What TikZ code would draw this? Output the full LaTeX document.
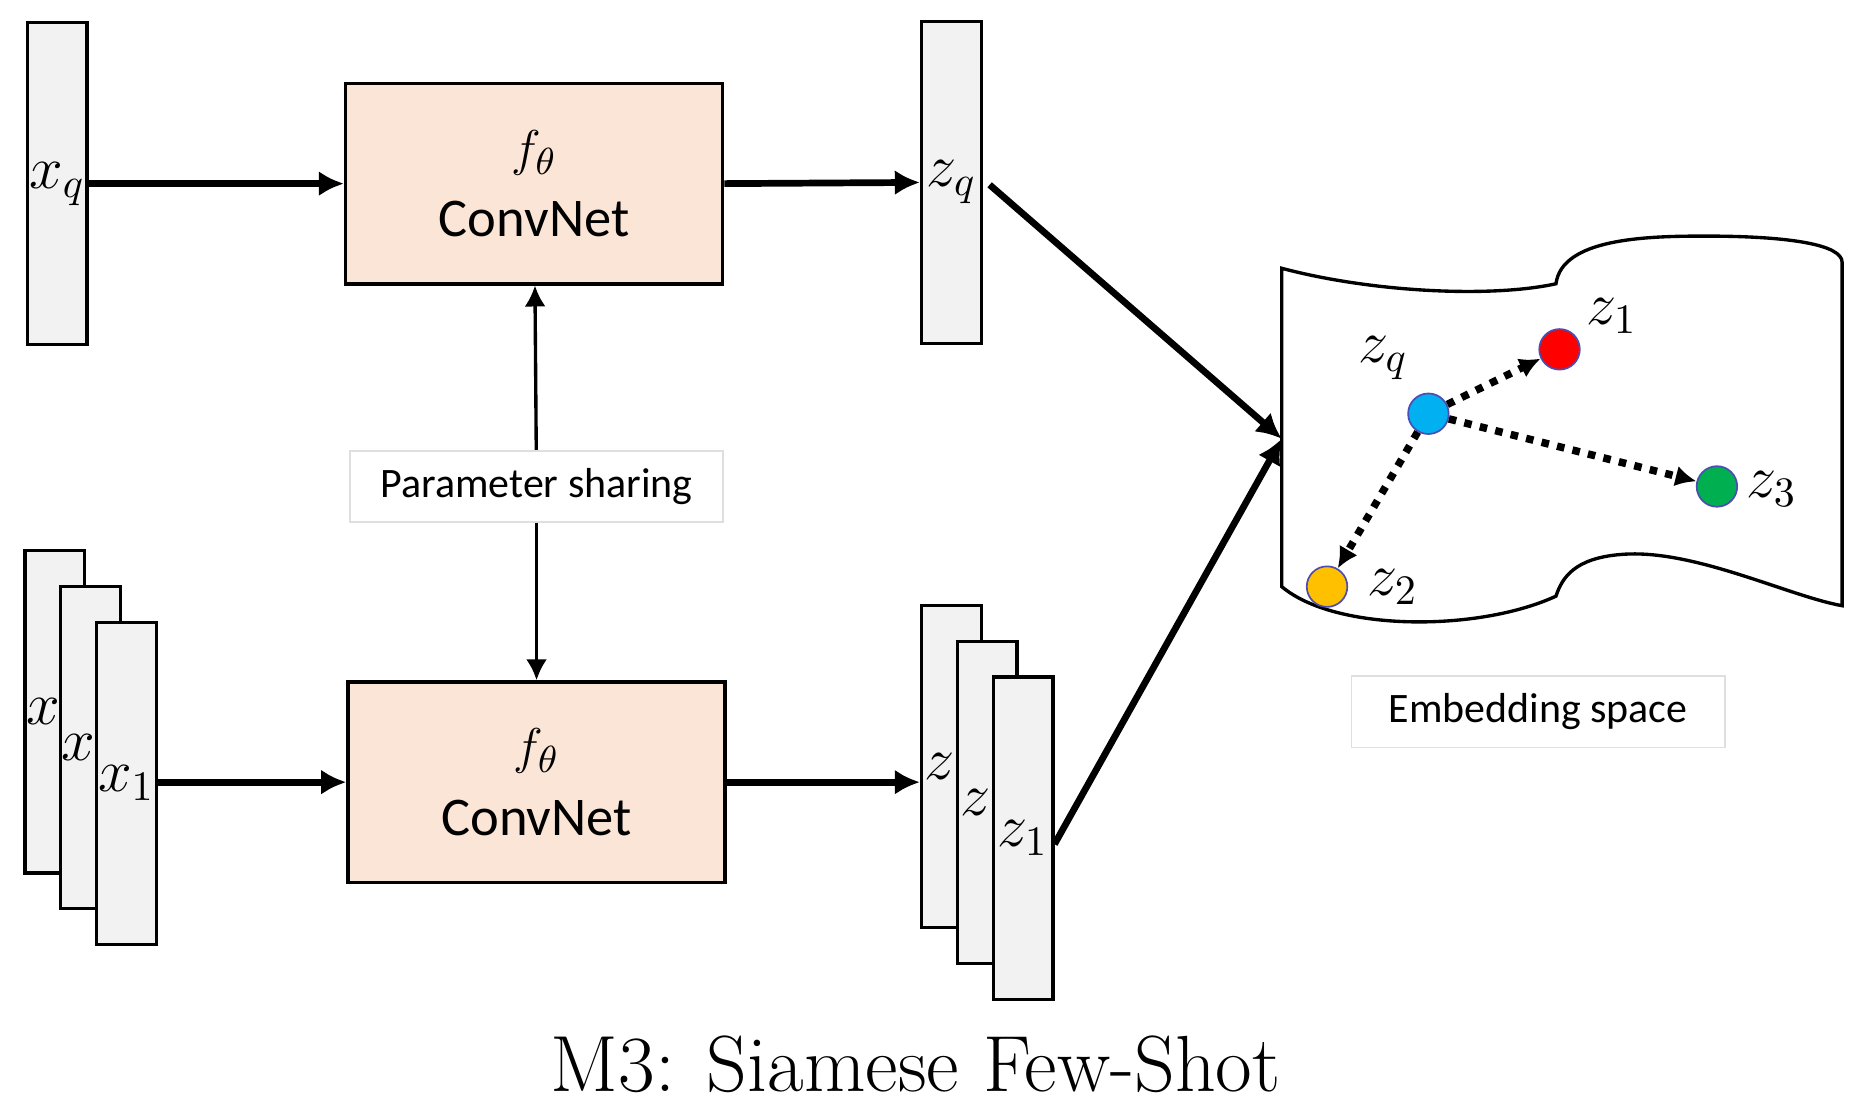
\documentclass[tikz,border=0pt]{standalone}
\usepackage{amsmath,fontspec}
\newfontfamily\sansf{Carlito}
\usetikzlibrary{positioning,arrows.meta}
\definecolor{barfill}{HTML}{F2F2F2}
\definecolor{netfill}{HTML}{FBE5D6}
\definecolor{dotyellow}{HTML}{FFC000}
\definecolor{dotgreen}{HTML}{00B050}
\definecolor{dotblue}{HTML}{00B0F0}
\tikzset{
  bar/.style={draw,thick,fill=barfill,minimum width=0.5cm,minimum height=2.7cm,inner sep=0pt},
  net/.style={draw,thick,fill=netfill,minimum width=3.16cm,minimum height=1.68cm,align=center,font=\sansf\fontsize{13}{17}\selectfont},
  note/.style={draw=gray!25,fill=white,minimum width=3.13cm,minimum height=0.6cm,font=\sansf\fontsize{10}{12}\selectfont},
  flow/.style={-{Latex[length=6pt,width=6pt]},line width=1.6pt},
  share/.style={-{Latex[length=5pt,width=5pt]},thick},
  dot/.style={circle,draw=blue!40!gray,minimum size=0.34cm,inner sep=0pt},
  near/.style={-{Latex[length=5pt,width=5pt]},line width=1.8pt,dotted},
  lbl/.style={font=\fontsize{14}{17}\selectfont}
}
\begin{document}
\begin{tikzpicture}[x=0.01cm,y=-0.01cm]
\useasboundingbox (0,0) rectangle (1560,930);
% query branch
\draw (48,154) node [bar] (xq) {};
\node [lbl] at (xq) {$x_q$};
\draw (448,154) node [net] (netq) {$f_\theta$\\ConvNet};
\draw (798,153) node [bar] (zq) {};
\node [lbl] at (zq) {$z_q$};
% support branch
\draw (46,597) node [bar] (xa) {};
\draw (76,627) node [bar] (xb) {};
\draw (106,657) node [bar] (xc) {};
\node [lbl,xshift=-0.1cm] at (xa) {$x$};
\node [lbl,xshift=-0.1cm] at (xb) {$x$};
\node [lbl] at (xc) {$x_1$};
\draw (450,656) node [net] (nets) {$f_\theta$\\ConvNet};
\draw (798,643) node [bar] (za) {};
\draw (828,673) node [bar] (zb) {};
\draw (858,703) node [bar] (zc) {};
\node [lbl,xshift=-0.1cm] at (za) {$z$};
\node [lbl,xshift=-0.1cm] at (zb) {$z$};
\node [lbl] at (zc) {$z_1$};
\draw (450,408) node [note] (share) {Parameter sharing};
\draw (1290,597) node [note] (emb) {Embedding space};
% embedding surface
\draw [thick] (1075,225) .. controls (1150,245) and (1250,250) .. (1305,238)
  .. controls (1310,200) and (1380,198) .. (1430,198)
  .. controls (1500,198) and (1545,205) .. (1545,220) -- (1545,508)
  .. controls (1500,500) and (1420,460) .. (1360,465)
  .. controls (1320,468) and (1310,485) .. (1305,500)
  .. controls (1240,530) and (1120,530) .. (1075,492) -- cycle;
\coordinate (in) at (1075,368);
\draw (1198,347) node [dot,fill=dotblue] (pq) {};
\draw (1308,293) node [dot,fill=red] (p1) {};
\draw (1440,408) node [dot,fill=dotgreen] (p3) {};
\draw (1113,492) node [dot,fill=dotyellow] (p2) {};
\node [lbl] at (1160,300) {$z_q$};
\node [lbl] at (1352,265) {$z_1$};
\node [lbl] at (1486,410) {$z_3$};
\node [lbl] at (1168,492) {$z_2$};

\draw [flow] (xq) -- (netq);
\draw [flow] (netq.east) -- (zq.west);
\draw [flow] (xc.east |- nets) -- (nets);
\draw [flow] (nets.east) -- (za.west |- nets);
\draw [flow] (830,155) -- (in);
\draw [flow] (zc.east |- 0,708) -- (in);
\draw [share] (share) -- (netq);
\draw [share] (share) -- (nets);
\draw [near] (pq) -- (p1);
\draw [near] (pq) -- (p3);
\draw [near] (pq) -- (p2);
\node [font=\fontsize{19}{23}\selectfont] at (768,893) {M3: Siamese Few-Shot};
\end{tikzpicture}
\end{document}
